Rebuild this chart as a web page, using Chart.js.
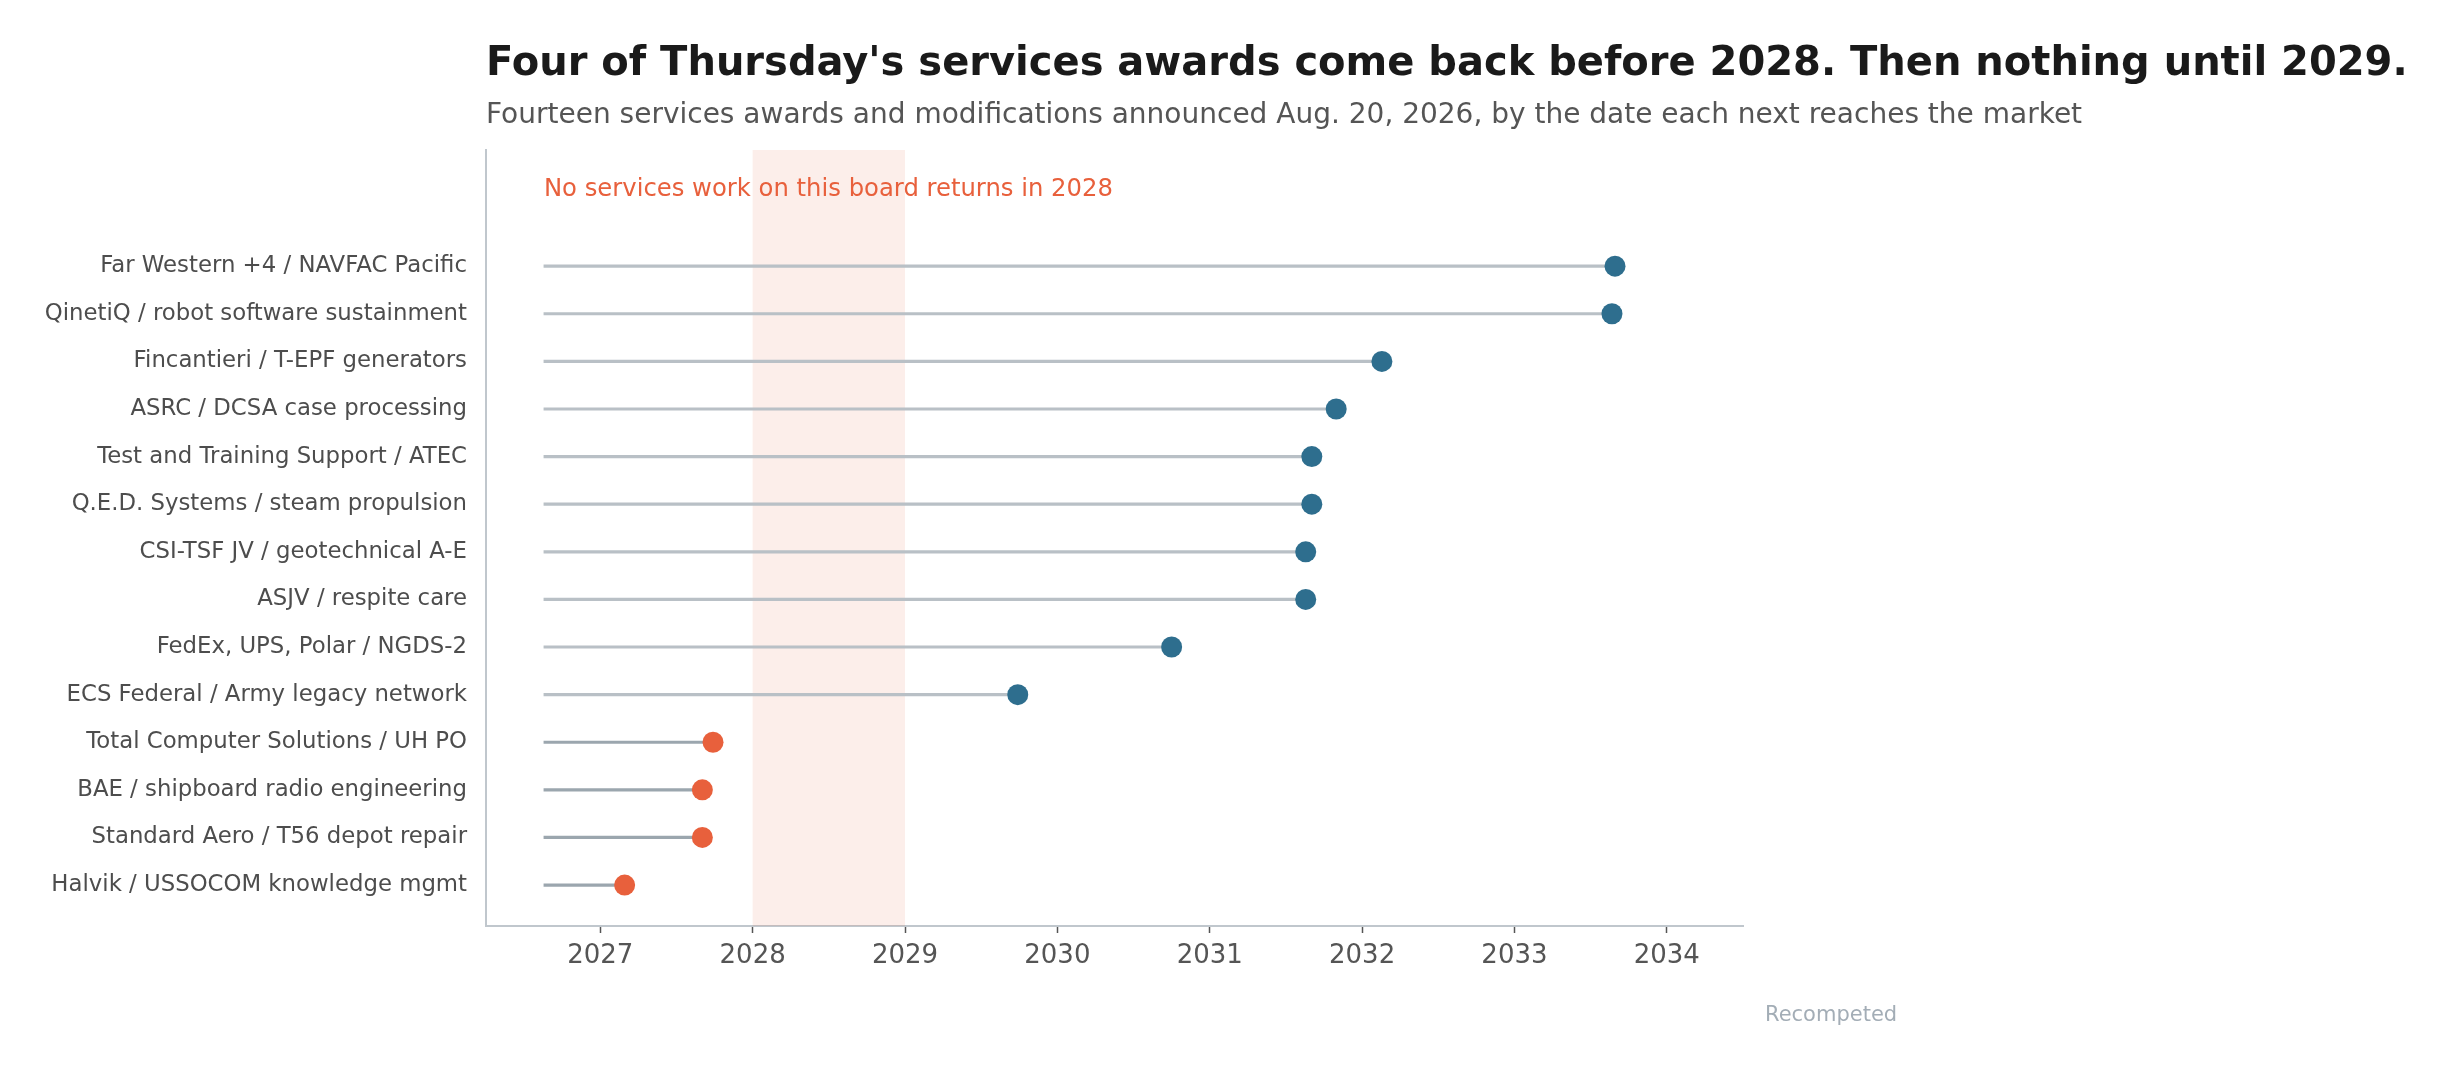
<!DOCTYPE html>
<html>
<head>
<meta charset="utf-8">
<title>Services awards recompete timeline</title>
<script src="https://cdn.jsdelivr.net/npm/chart.js@4.4.1/dist/chart.umd.min.js"></script>
<style>
  html, body { margin: 0; padding: 0; background: #ffffff; }
  #wrap { position: relative; width: 2451px; height: 1070px; }
</style>
</head>
<body>
<div id="wrap"><canvas id="recompeteChart"></canvas></div>
<script>
// Awards, top row first
const awardLabels = [
    'Far Western +4 / NAVFAC Pacific',
    'QinetiQ / robot software sustainment',
    'Fincantieri / T-EPF generators',
    'ASRC / DCSA case processing',
    'Test and Training Support / ATEC',
    'Q.E.D. Systems / steam propulsion',
    'CSI-TSF JV / geotechnical A-E',
    'ASJV / respite care',
    'FedEx, UPS, Polar / NGDS-2',
    'ECS Federal / Army legacy network',
    'Total Computer Solutions / UH PO',
    'BAE / shipboard radio engineering',
    'Standard Aero / T56 depot repair',
    'Halvik / USSOCOM knowledge mgmt'
];
// Date (decimal year) each award next reaches the market
const nextMarketDate = [2033.66, 2033.64, 2032.13, 2031.83, 2031.67, 2031.67, 2031.63,
                        2031.63, 2030.75, 2029.74, 2027.74, 2027.67, 2027.67, 2027.16];
const announcedDate = 2026.63;           // Aug. 20, 2026
const yearTicks = [2027, 2028, 2029, 2030, 2031, 2032, 2033, 2034];
const emptyYear = [2028, 2029];          // the shaded gap

const colors = {
    blue: '#2e6e8e',
    orange: '#e8603c',
    stemBlue: '#b9c0c6',
    stemOrange: '#9ba6ae',
    band: 'rgba(232, 96, 60, 0.11)',
    axis: '#c0c7cd',
    text: '#4d4d4d',
    tick: '#555555'
};
const FONT = "'DejaVu Sans', sans-serif";

// row index counted from the bottom so the first label sits on top
const rowY = (i) => awardLabels.length - 1 - i;
const isEarly = (v) => v < emptyYear[0];

const stemData = nextMarketDate.map((v, i) => ({ x: [announcedDate, v], y: rowY(i) }));
const dotData = nextMarketDate.map((v, i) => ({ x: v, y: rowY(i) }));

// shaded year band + annotation, drawn behind the marks
const bandPlugin = {
    id: 'bandPlugin',
    beforeDatasetsDraw(chart) {
        const { ctx, chartArea, scales: { x, y } } = chart;
        const x0 = x.getPixelForValue(emptyYear[0]);
        const x1 = x.getPixelForValue(emptyYear[1]);
        ctx.save();
        ctx.fillStyle = colors.band;
        ctx.fillRect(x0, chartArea.top, x1 - x0, chartArea.bottom - chartArea.top);
        ctx.fillStyle = colors.orange;
        ctx.font = '24.3px ' + FONT;
        ctx.textBaseline = 'middle';
        ctx.textAlign = 'left';
        ctx.fillText('No services work on this board returns in 2028',
            x.getPixelForValue(announcedDate), y.getPixelForValue(awardLabels.length + 0.6));
        ctx.restore();
    }
};

// title, subtitle and the small note, aligned with the plot's left edge
const headerPlugin = {
    id: 'headerPlugin',
    afterDraw(chart) {
        const { ctx, chartArea } = chart;
        ctx.save();
        ctx.textAlign = 'left';
        ctx.textBaseline = 'alphabetic';
        ctx.fillStyle = '#1a1a1a';
        ctx.font = 'bold 40px ' + FONT;
        ctx.fillText("Four of Thursday's services awards come back before 2028. Then nothing until 2029.",
            chartArea.left, 75);
        ctx.fillStyle = '#555555';
        ctx.font = '28px ' + FONT;
        ctx.fillText('Fourteen services awards and modifications announced Aug. 20, 2026, by the date each next reaches the market',
            chartArea.left, 123);
        ctx.fillStyle = '#a3adb6';
        ctx.font = '21px ' + FONT;
        ctx.fillText('Recompeted', chartArea.right + 22, chartArea.bottom + 95);
        ctx.restore();
    }
};

new Chart(document.getElementById('recompeteChart'), {
    type: 'bar',
    data: {
        datasets: [{
            type: 'scatter',
            data: dotData,
            order: 0,
            pointRadius: 10.5,
            pointHoverRadius: 10.5,
            pointBorderWidth: 0,
            pointBackgroundColor: nextMarketDate.map(v => isEarly(v) ? colors.orange : colors.blue)
        }, {
            type: 'bar',
            indexAxis: 'y',
            data: stemData,
            order: 1,
            barThickness: 2.5,
            backgroundColor: nextMarketDate.map(v => isEarly(v) ? colors.stemOrange : colors.stemBlue)
        }]
    },
    options: {
        indexAxis: 'y',
        responsive: true,
        maintainAspectRatio: false,
        devicePixelRatio: 1,
        animation: false,
        layout: { padding: { top: 150, right: 708, bottom: 0, left: 0 } },
        plugins: {
            legend: { display: false },
            tooltip: { enabled: false }
        },
        scales: {
            x: {
                type: 'linear',
                position: 'bottom',
                offset: false,
                min: 2026.25,
                max: 2034.5,
                afterBuildTicks: (scale) => { scale.ticks = yearTicks.map(v => ({ value: v })); },
                afterFit: (scale) => { scale.height = 144; },
                ticks: {
                    font: { family: FONT, size: 26 },
                    color: colors.tick,
                    padding: 8,
                    maxRotation: 0,
                    callback: (v) => String(v)
                },
                grid: {
                    offset: false,
                    drawOnChartArea: false,
                    drawTicks: true,
                    tickLength: 7,
                    tickColor: colors.tick,
                    tickWidth: 1.5
                },
                border: { display: true, color: colors.axis, width: 2 }
            },
            y: {
                type: 'linear',
                position: 'left',
                offset: false,
                min: -0.86,
                max: awardLabels.length + 1.44,
                afterBuildTicks: (scale) => { scale.ticks = awardLabels.map((_, i) => ({ value: rowY(i) })); },
                afterFit: (scale) => { scale.width = 486; },
                ticks: {
                    font: { family: FONT, size: 22.8 },
                    color: colors.text,
                    padding: 19,
                    callback: (v) => awardLabels[awardLabels.length - 1 - v]
                },
                grid: { display: false, offset: false, drawTicks: false },
                border: { display: true, color: colors.axis, width: 2 }
            }
        }
    },
    plugins: [bandPlugin, headerPlugin]
});
</script>
</body>
</html>
